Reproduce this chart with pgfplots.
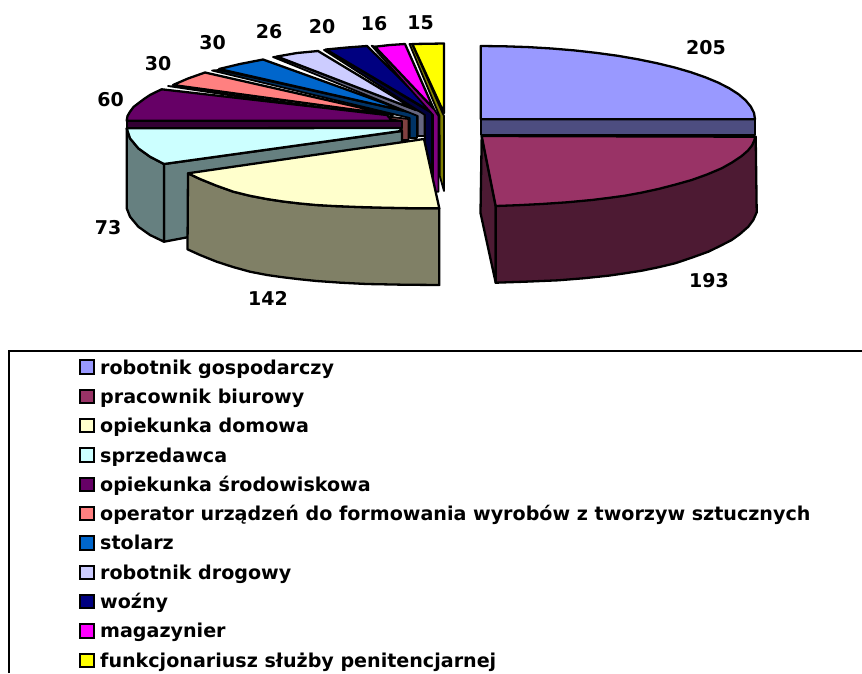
\documentclass[border=0pt]{standalone}
\usepackage{pgfplots}
\pgfplotsset{compat=1.18}
\usepackage{fontspec}
\setmainfont{DejaVu Sans}
\definecolor{c1}{HTML}{9999FF}\definecolor{w1}{HTML}{4D4D80}
\definecolor{c2}{HTML}{993366}\definecolor{w2}{HTML}{4D1A33}
\definecolor{c3}{HTML}{FFFFCC}\definecolor{w3}{HTML}{808066}
\definecolor{c4}{HTML}{CCFFFF}\definecolor{w4}{HTML}{668080}
\definecolor{c5}{HTML}{660066}\definecolor{w5}{HTML}{330033}
\definecolor{c6}{HTML}{FF8080}\definecolor{w6}{HTML}{804040}
\definecolor{c7}{HTML}{0066CC}\definecolor{w7}{HTML}{003366}
\definecolor{c8}{HTML}{CCCCFF}\definecolor{w8}{HTML}{666680}
\definecolor{c9}{HTML}{000080}\definecolor{w9}{HTML}{000040}
\definecolor{c10}{HTML}{FF00FF}\definecolor{w10}{HTML}{800080}
\definecolor{c11}{HTML}{FFFF00}\definecolor{w11}{HTML}{808000}
\pgfplotsset{face/.style={forget plot,no marks,draw=black,line width=2.3pt,line join=round,fill=#1},
  thinface/.style={forget plot,no marks,draw=black,line width=1.8pt,line join=round,fill=#1}}
\newcommand{\lab}[3]{\node[font=\fontsize{19}{19}\bfseries] at (axis cs:#1,#2) {#3};}
\begin{document}
\begin{tikzpicture}
\useasboundingbox (0,0) rectangle (862pt,673pt);
\begin{axis}[
  at={(0,0)},anchor=south west,
  scale only axis,width=862pt,height=673pt,
  xmin=0,xmax=862,ymin=0,ymax=673,y dir=reverse,
  hide axis,clip=true,
  legend image code/.code={\draw[#1,line width=2pt] (0pt,-4.8pt) rectangle (14pt,8.8pt);},
  legend cell align=left,
  legend style={draw=none,fill=none,at={(axis cs:78.7,359)},anchor=north west,inner sep=0pt,outer sep=0pt,
    font=\fontsize{19.1}{20}\bfseries,row sep=9.33pt,
    nodes={inner sep=0pt,outer sep=0pt,text height=15pt,text depth=5pt},
    /tikz/column 1/.style={column sep=5.5pt}},
]
% frame of the legend
\addplot[forget plot,no marks,draw=black,line width=2pt] coordinates {(9.3,673) (9.3,351) (862,351)};
% small slices: walls and tops
\addplot[thinface=w6] coordinates {(168,86) (173,86.5) (392,117) (408.5,119) (408.5,140) (401.7,140) (401.7,121)} --cycle;
\addplot[face=c6] coordinates {(173,85) (188,78.5) (205,72.5) (393,115)} --cycle;
\addplot[thinface=w7] coordinates {(212,70.5) (219,70) (409,112) (417,115) (417,138) (409.7,138) (409.7,118)} --cycle;
\addplot[face=c7] coordinates {(219,69) (240,64) (263,59.5) (409,112)} --cycle;
\addplot[thinface=w8] coordinates {(273,57) (277,56.5) (416,110) (424.5,113) (424.5,136) (417.7,136) (417.7,116)} --cycle;
\addplot[face=c8] coordinates {(277,56.5) (297,53) (318,51) (416,110)} --cycle;
\addplot[thinface=w9] coordinates {(324,50) (326,49.5) (430,112) (432,112) (432,195) (425,195) (425,115)} --cycle;
\addplot[face=c9] coordinates {(326,49.5) (347,47.5) (367,46) (432,110) (428,110)} --cycle;
\addplot[thinface=w10] coordinates {(371.7,45.7) (375,46.7) (432.7,107) (438.5,116) (438.5,191.7) (433,191.7) (433,115)} --cycle;
\addplot[face=c10] coordinates {(375,46.7) (390,45) (405,44) (433.5,108.5)} --cycle;
\addplot[thinface=w11] coordinates {(409.5,44) (412.3,44) (442.7,113.3) (444,116) (444,191) (439.8,176) (439.5,116)} --cycle;
\addplot[face=c11] coordinates {(412.3,44) (444,43.5) (444,113)} --cycle;
% opiekunka srodowiskowa
\addplot[face=w5] coordinates {(126.7,121) (401.7,121) (401.7,128) (126.7,128)} --cycle;
\addplot[face=c5] coordinates {(126.7,120.7) (127.5,116) (130,111.7) (133.5,107) (138.3,103.3) (144,99) (150,95) (156,92) (161.7,89.3) (387,115) (392,120.7)} --cycle;
% sprzedawca
\addplot[face=w4] coordinates {(164,164) (402,131) (402,197) (164,241.7)} --cycle;
\addplot[face=w4] coordinates {(126.7,128.3) (130,138.3) (138.3,148.3) (150,156.7) (164,164) (164,241.7) (150,235) (138.3,226.7) (130,216.7) (126.7,208.3)} --cycle;
\addplot[face=c4] coordinates {(126.7,128.3) (400,128) (401,131) (164,164) (150,156.7) (138.3,148.3) (130,138.3)} --cycle;
% robotnik gospodarczy
\addplot[face=w1] coordinates {(480.7,119.3) (755,119.3) (755,135) (480.7,135)} --cycle;
\addplot[face=c1] coordinates {(480.7,46) (504.6,46.3) (528.3,47.1) (551.7,48.5) (574.5,50.4) (596.6,52.9) (617.9,55.8) (638,59.3) (657,63.2) (674.7,67.5) (690.8,72.2) (705.4,77.3) (718.2,82.6) (729.3,88.3) (738.5,94.2) (745.6,100.3) (750.8,106.6) (754,112.9) (755,119.3) (480.7,119.3)} --cycle;
% pracownik biurowy
\addplot[face=w2] coordinates {(481.7,136) (495.7,206) (495.7,282.7) (480.5,213)} --cycle;
\addplot[face=w2] coordinates {(755.7,136.7) (756.7,212.3) (753.3,220) (748.3,226.7) (740,234) (731.7,240) (720,246) (708.3,251.7) (691.7,257.7) (675,263.3) (658.3,267.3) (641.7,270.7) (625,273.3) (608.3,275.7) (583.3,278.3) (558.3,280.3) (525,281.7) (495.7,282.7) (495.7,206)} --cycle;
\addplot[face=c2] coordinates {(481.7,136) (755,136.7) (754.5,140) (752,145.5) (748,150.5) (741.7,156) (732,162.5) (721.7,168.3) (707,174.5) (691.7,180) (675,184.7) (658.3,189) (641.7,192.6) (625,195.7) (608,198) (591.7,200) (567,202.3) (541.7,204) (518,205.2) (495.7,206)} --cycle;
% opiekunka domowa
\addplot[face=w3] coordinates {(188,173.3) (200,179) (216,185.5) (233.3,191.7) (250,195.8) (266.7,199) (283,201.5) (300,203.5) (316,205) (333.3,206) (358,207) (383.3,207.7) (411,208.2) (439.3,208.3) (439.3,285) (403,284.7) (366.7,284) (341,282.7) (316.7,281) (300,279.3) (283.3,277.3) (267,275) (250,271.7) (233,267) (216.7,261.7) (200,255) (187.5,249.3)} --cycle;
\addplot[face=c3] coordinates {(188,173.3) (424,139) (439.3,208.3) (411,208.2) (383.3,207.7) (358,207) (333.3,206) (316,205) (300,203.5) (283,201.5) (266.7,199) (250,195.8) (233.3,191.7) (216,185.5) (200,179)} --cycle;
% values
\lab{706}{48}{205}\lab{709}{281}{193}\lab{268}{298}{142}\lab{108}{228}{73}
\lab{110.5}{99.5}{60}\lab{158}{64}{30}\lab{212.5}{43}{30}\lab{269}{32}{26}
\lab{322}{26.5}{20}\lab{374}{24}{16}\lab{420.5}{23}{15}
% legend
\addlegendimage{draw=black,fill=c1}\addlegendentry{robotnik gospodarczy}
\addlegendimage{draw=black,fill=c2}\addlegendentry{pracownik biurowy}
\addlegendimage{draw=black,fill=c3}\addlegendentry{opiekunka domowa}
\addlegendimage{draw=black,fill=c4}\addlegendentry{sprzedawca}
\addlegendimage{draw=black,fill=c5}\addlegendentry{opiekunka środowiskowa}
\addlegendimage{draw=black,fill=c6}\addlegendentry{operator urządzeń do formowania wyrobów z tworzyw sztucznych}
\addlegendimage{draw=black,fill=c7}\addlegendentry{stolarz}
\addlegendimage{draw=black,fill=c8}\addlegendentry{robotnik drogowy}
\addlegendimage{draw=black,fill=c9}\addlegendentry{woźny}
\addlegendimage{draw=black,fill=c10}\addlegendentry{magazynier}
\addlegendimage{draw=black,fill=c11}\addlegendentry{funkcjonariusz służby penitencjarnej}
\end{axis}
\end{tikzpicture}
\end{document}
